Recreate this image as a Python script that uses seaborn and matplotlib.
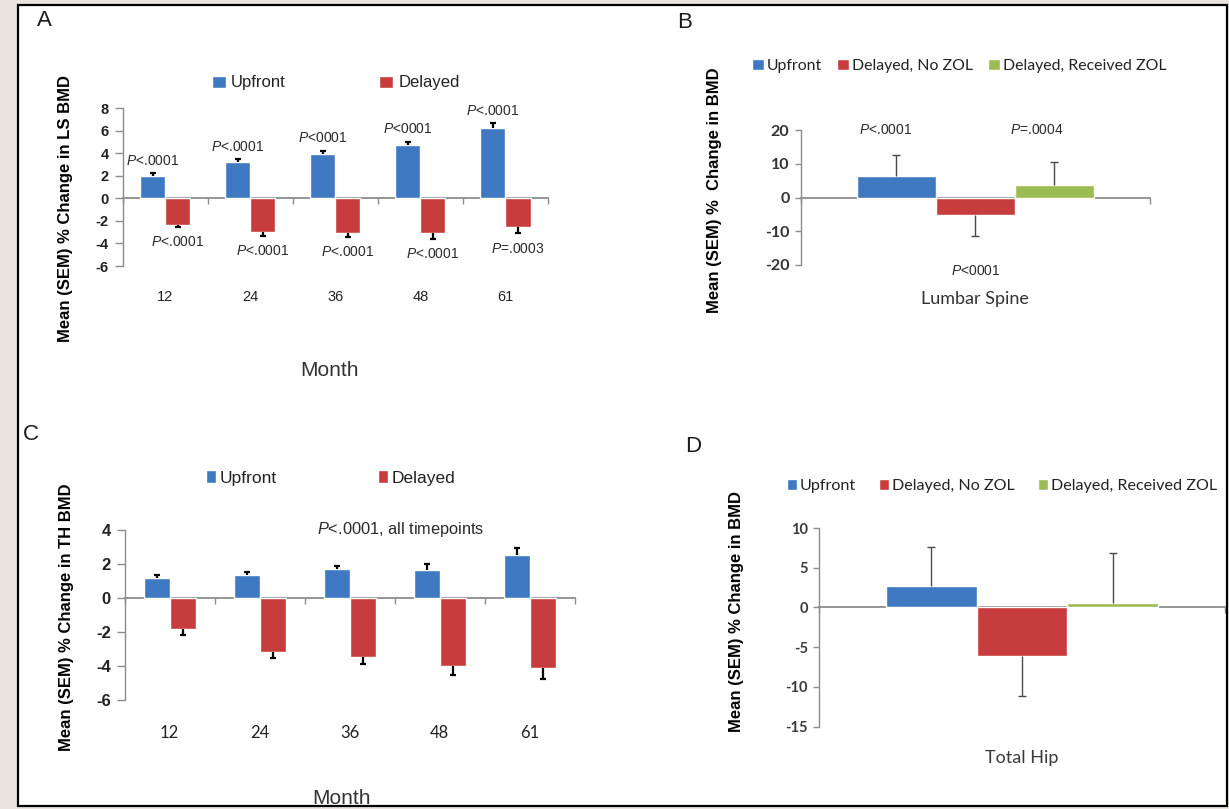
import numpy as np
import pandas as pd
import matplotlib
matplotlib.use("Agg")
import matplotlib.pyplot as plt
from matplotlib.patches import Rectangle
from matplotlib.ticker import FixedLocator
import seaborn as sns

# ---------------- data ----------------
months = ["12", "24", "36", "48", "61"]
two_groups = ["Upfront", "Delayed"]
three_groups = ["Upfront", "Delayed, No ZOL", "Delayed, Received ZOL"]

# A: lumbar spine BMD change by month
ls_upfront = [2.0, 3.2, 3.9, 4.7, 6.2]
ls_upfront_sem = [0.2, 0.25, 0.3, 0.3, 0.45]
ls_delayed = [-2.4, -3.0, -3.1, -3.1, -2.5]
ls_delayed_sem = [0.1, 0.3, 0.35, 0.5, 0.6]
ls_upfront_p = ["<.0001", "<.0001", "<0001", "<0001", "<.0001"]
ls_delayed_p = ["<.0001", "<.0001", "<.0001", "<.0001", "=.0003"]

# B: lumbar spine, by ZOL status
lumbar_change = [6.5, -5.3, 3.7]
lumbar_sem = [6.0, 6.2, 6.8]
lumbar_p = ["<.0001", "<0001", "=.0004"]

# C: total hip BMD change by month
th_upfront = [1.2, 1.35, 1.7, 1.65, 2.55]
th_upfront_sem = [0.15, 0.2, 0.2, 0.35, 0.4]
th_delayed = [-1.85, -3.2, -3.45, -4.0, -4.1]
th_delayed_sem = [0.3, 0.3, 0.45, 0.55, 0.65]

# D: total hip, by ZOL status
hip_change = [2.7, -6.1, 0.55]
hip_sem = [4.9, 5.0, 6.25]

# ---------------- style ----------------
BLUE = "#3e79c2"
RED = "#c73d3d"
GREEN = "#9cbb53"
AXIS_GRAY = "#8c8c8c"
BG = "#e7e5de"
ARIAL = "Liberation Sans"
CALIBRI = "Lato"

sns.set_style("white")
plt.rcParams["font.family"] = [ARIAL, "DejaVu Sans"]
plt.rcParams["axes.unicode_minus"] = False
plt.rcParams["mathtext.fontset"] = "custom"
plt.rcParams["mathtext.it"] = "Liberation Sans:italic"
plt.rcParams["mathtext.rm"] = "Liberation Sans"

W, H = 1229, 809
fig = plt.figure(figsize=(W / 100, H / 100), dpi=100, facecolor=BG)


def px_axes(left, top, right, bottom):
    return fig.add_axes([left / W, 1 - bottom / H, (right - left) / W, (bottom - top) / H])


def fx(x):
    return x / W


def fy(y):
    return 1 - y / H


# white panel behind all four charts
fig.patches.append(Rectangle((fx(18), fy(806)), (1227 - 18) / W, (806 - 5) / H,
                             transform=fig.transFigure, facecolor="white",
                             edgecolor="none", zorder=-5))


def style_axis(ax, n_cat, ylim, yticks, tick_family, tick_size, tick_color,
               xpad, ylen, yweight="normal"):
    ax.set_xlim(-0.5, n_cat - 0.5)
    ax.set_ylim(*ylim)
    ax.set_yticks(yticks)
    ax.set_facecolor("none")
    for s in ("right", "bottom"):
        ax.spines[s].set_visible(False)
    ax.spines["left"].set_color(AXIS_GRAY)
    ax.spines["left"].set_linewidth(1.0)
    # category axis crosses at zero
    ax.spines["top"].set_position(("data", 0))
    ax.spines["top"].set_color(AXIS_GRAY)
    ax.spines["top"].set_linewidth(1.3)
    ax.spines["top"].set_zorder(1.5)
    ax.xaxis.set_minor_locator(FixedLocator(np.arange(n_cat + 1) - 0.5))
    ax.tick_params(axis="x", which="major", bottom=True, top=False, length=0,
                   pad=xpad, labelsize=tick_size, labelcolor=tick_color)
    ax.tick_params(axis="x", which="minor", bottom=False, top=True,
                   direction="in", length=4, width=1.0, color=AXIS_GRAY)
    ax.tick_params(axis="y", left=True, direction="out", length=ylen,
                   width=1.0, color=AXIS_GRAY, labelsize=tick_size,
                   labelcolor=tick_color, pad=4)
    for t in ax.get_xticklabels():
        t.set_fontfamily(tick_family)
    for t in ax.get_yticklabels():
        t.set_fontfamily(tick_family)
        t.set_fontweight(yweight)
    ax.set_xlabel("")
    ax.set_ylabel("")


def draw_sem(ax, bars, values, sems, color, lw, cap):
    tips = []
    for bar, v, e in zip(bars, values, sems):
        xc = bar.get_x() + bar.get_width() / 2
        tip = v + np.sign(v) * e
        ax.vlines(xc, v, tip, colors=color, lw=lw, zorder=3)
        ax.plot([xc], [tip], marker="_", ms=cap, mew=lw, color=color, zorder=3)
        tips.append((xc, tip))
    return tips


def place_legend(ax, x, y, family, size, ncol, hl, hh, tp, cs, color):
    handles, labels = ax.get_legend_handles_labels()
    if ax.get_legend() is not None:
        ax.get_legend().remove()
    leg = ax.legend(handles, labels, loc="center left",
                    bbox_to_anchor=(fx(x), fy(y)), bbox_transform=fig.transFigure,
                    ncol=ncol, frameon=False, borderpad=0, borderaxespad=0,
                    handlelength=hl, handleheight=hh, handletextpad=tp,
                    columnspacing=cs, prop={"family": family, "size": size})
    for t in leg.get_texts():
        t.set_color(color)
    return leg


def ptext(ax, x, y, rel, size, **kw):
    ax.text(x, y, r"$P$" + rel, ha="center", va="center", fontsize=size,
            color="#2a2a2a", clip_on=False, **kw)


# ================= Panel A =================
axA = px_axes(122.6, 108, 548, 266)
dfA = pd.DataFrame({
    "Month": months * 2,
    "Group": [two_groups[0]] * 5 + [two_groups[1]] * 5,
    "Change": ls_upfront + ls_delayed,
})
sns.barplot(data=dfA, x="Month", y="Change", hue="Group", hue_order=two_groups,
            palette=[BLUE, RED], width=0.59, saturation=1, errorbar=None,
            ax=axA, zorder=2)
style_axis(axA, 5, (-6, 8), range(-6, 9, 2), ARIAL, 10.5, "#222222", 17, 6, "bold")
tipsA_up = draw_sem(axA, axA.containers[0], ls_upfront, ls_upfront_sem, "black", 1.6, 5)
tipsA_dl = draw_sem(axA, axA.containers[1], ls_delayed, ls_delayed_sem, "black", 1.6, 5)
for (xc, tip), p in zip(tipsA_up, ls_upfront_p):
    ptext(axA, xc, tip + 1.1, p, 10)
for (xc, tip), p in zip(tipsA_dl, ls_delayed_p):
    ptext(axA, xc, tip - 1.35, p, 10)
place_legend(axA, 212, 83, ARIAL, 12, 2, 0.85, 0.72, 0.3, 5.6, "#222222")
axA.set_ylabel("Mean (SEM) % Change in LS BMD", fontsize=12, fontweight="bold",
               va="center", color="black")
axA.yaxis.set_label_coords((65 - 122.6) / 425.4, (266 - 209) / 158)
axA.set_xlabel("Month", fontsize=15, va="center", color="#333333")
axA.xaxis.set_label_coords((330 - 122.6) / 425.4, (266 - 370) / 158)

# ================= Panel B =================
axB = px_axes(800.6, 130, 1150, 265)
dfB = pd.DataFrame({
    "Site": ["Lumbar Spine"] * 3,
    "Group": three_groups,
    "Change": lumbar_change,
})
sns.barplot(data=dfB, x="Site", y="Change", hue="Group", hue_order=three_groups,
            palette=[BLUE, RED, GREEN], width=0.68, saturation=1, errorbar=None,
            ax=axB, zorder=2)
style_axis(axB, 1, (-20, 20), range(-20, 21, 10), CALIBRI, 11.5, "#333333", 19, 4, "bold")
axB.tick_params(axis="x", labelsize=13)
tipsB = []
for cont, v, e in zip(axB.containers, lumbar_change, lumbar_sem):
    tipsB += draw_sem(axB, cont, [v], [e], "#4a4a4a", 1.0, 6)
ptext(axB, tipsB[0][0] - 0.03, 20, lumbar_p[0], 10)
ptext(axB, tipsB[1][0], -21.8, lumbar_p[1], 10)
ptext(axB, tipsB[2][0] - 0.05, 20, lumbar_p[2], 10)
place_legend(axB, 752, 66, CALIBRI, 11.4, 3, 0.75, 0.72, 0.2, 0.95, "#222222")
axB.set_ylabel("Mean (SEM) %  Change in BMD", fontsize=12, fontweight="bold",
               va="center", color="black")
axB.yaxis.set_label_coords((715 - 800.6) / 349.4, (265 - 190) / 135)

# ================= Panel C =================
axC = px_axes(124.6, 530, 575, 700)
dfC = pd.DataFrame({
    "Month": months * 2,
    "Group": [two_groups[0]] * 5 + [two_groups[1]] * 5,
    "Change": th_upfront + th_delayed,
})
sns.barplot(data=dfC, x="Month", y="Change", hue="Group", hue_order=two_groups,
            palette=[BLUE, RED], width=0.58, saturation=1, errorbar=None,
            ax=axC, zorder=2)
style_axis(axC, 5, (-6, 4), range(-6, 5, 2), ARIAL, 12, "#222222", 18, 6, "bold")
for t in axC.get_xticklabels():
    t.set_fontfamily(CALIBRI)
draw_sem(axC, axC.containers[0], th_upfront, th_upfront_sem, "black", 1.6, 5)
draw_sem(axC, axC.containers[1], th_delayed, th_delayed_sem, "black", 1.6, 5)
axC.text(2.56, 4.05, r"$P$<.0001, all timepoints", ha="center", va="center",
         fontsize=11.8, color="#2a2a2a", clip_on=False)
place_legend(axC, 206, 478, ARIAL, 12.5, 2, 0.6, 0.72, 0.2, 5.8, "#222222")
axC.set_ylabel("Mean (SEM) % Change in TH BMD", fontsize=12, fontweight="bold",
               va="center", color="black")
axC.yaxis.set_label_coords((67 - 124.6) / 450.4, (700 - 617) / 170)
axC.set_xlabel("Month", fontsize=15, va="center", color="#333333")
axC.xaxis.set_label_coords((342 - 124.6) / 450.4, (700 - 798) / 170)

# ================= Panel D =================
axD = px_axes(819, 528, 1225, 726.7)
dfD = pd.DataFrame({
    "Site": ["Total Hip"] * 3,
    "Group": three_groups,
    "Change": hip_change,
})
sns.barplot(data=dfD, x="Site", y="Change", hue="Group", hue_order=three_groups,
            palette=[BLUE, RED, GREEN], width=0.67, saturation=1, errorbar=None,
            ax=axD, zorder=2)
style_axis(axD, 1, (-15, 10), range(-15, 11, 5), CALIBRI, 10.5, "#3a3a3a", 17, 4, "bold")
axD.tick_params(axis="x", labelsize=13)
for cont, v, e in zip(axD.containers, hip_change, hip_sem):
    draw_sem(axD, cont, [v], [e], "#4a4a4a", 1.0, 6)
place_legend(axD, 787, 486, CALIBRI, 11.6, 3, 0.6, 0.7, 0.2, 1.45, "#222222")
axD.set_ylabel("Mean (SEM) % Change in BMD", fontsize=12, fontweight="bold",
               va="center", color="black")
axD.yaxis.set_label_coords((736.5 - 819) / 406, (726.7 - 612) / 198.7)

# panel letters
for letter, x, y in (("A", 44, 20), ("B", 685, 22), ("C", 31, 435), ("D", 693, 446)):
    fig.text(fx(x), fy(y), letter, fontsize=16, ha="center", va="center",
             color="#1a1a1a")

# frame drawn on top; the outer margin hides anything that runs past it
fig.patches.append(Rectangle((fx(1227), 0), 2 / W, 1, transform=fig.transFigure,
                             facecolor=BG, edgecolor="none", zorder=20))
fig.patches.append(Rectangle((fx(18), fy(806)), (1227 - 18) / W, (806 - 5) / H,
                             transform=fig.transFigure, fill=False,
                             edgecolor="black", lw=1.6, zorder=21))

fig.savefig("out.png", dpi=100, facecolor=BG)
